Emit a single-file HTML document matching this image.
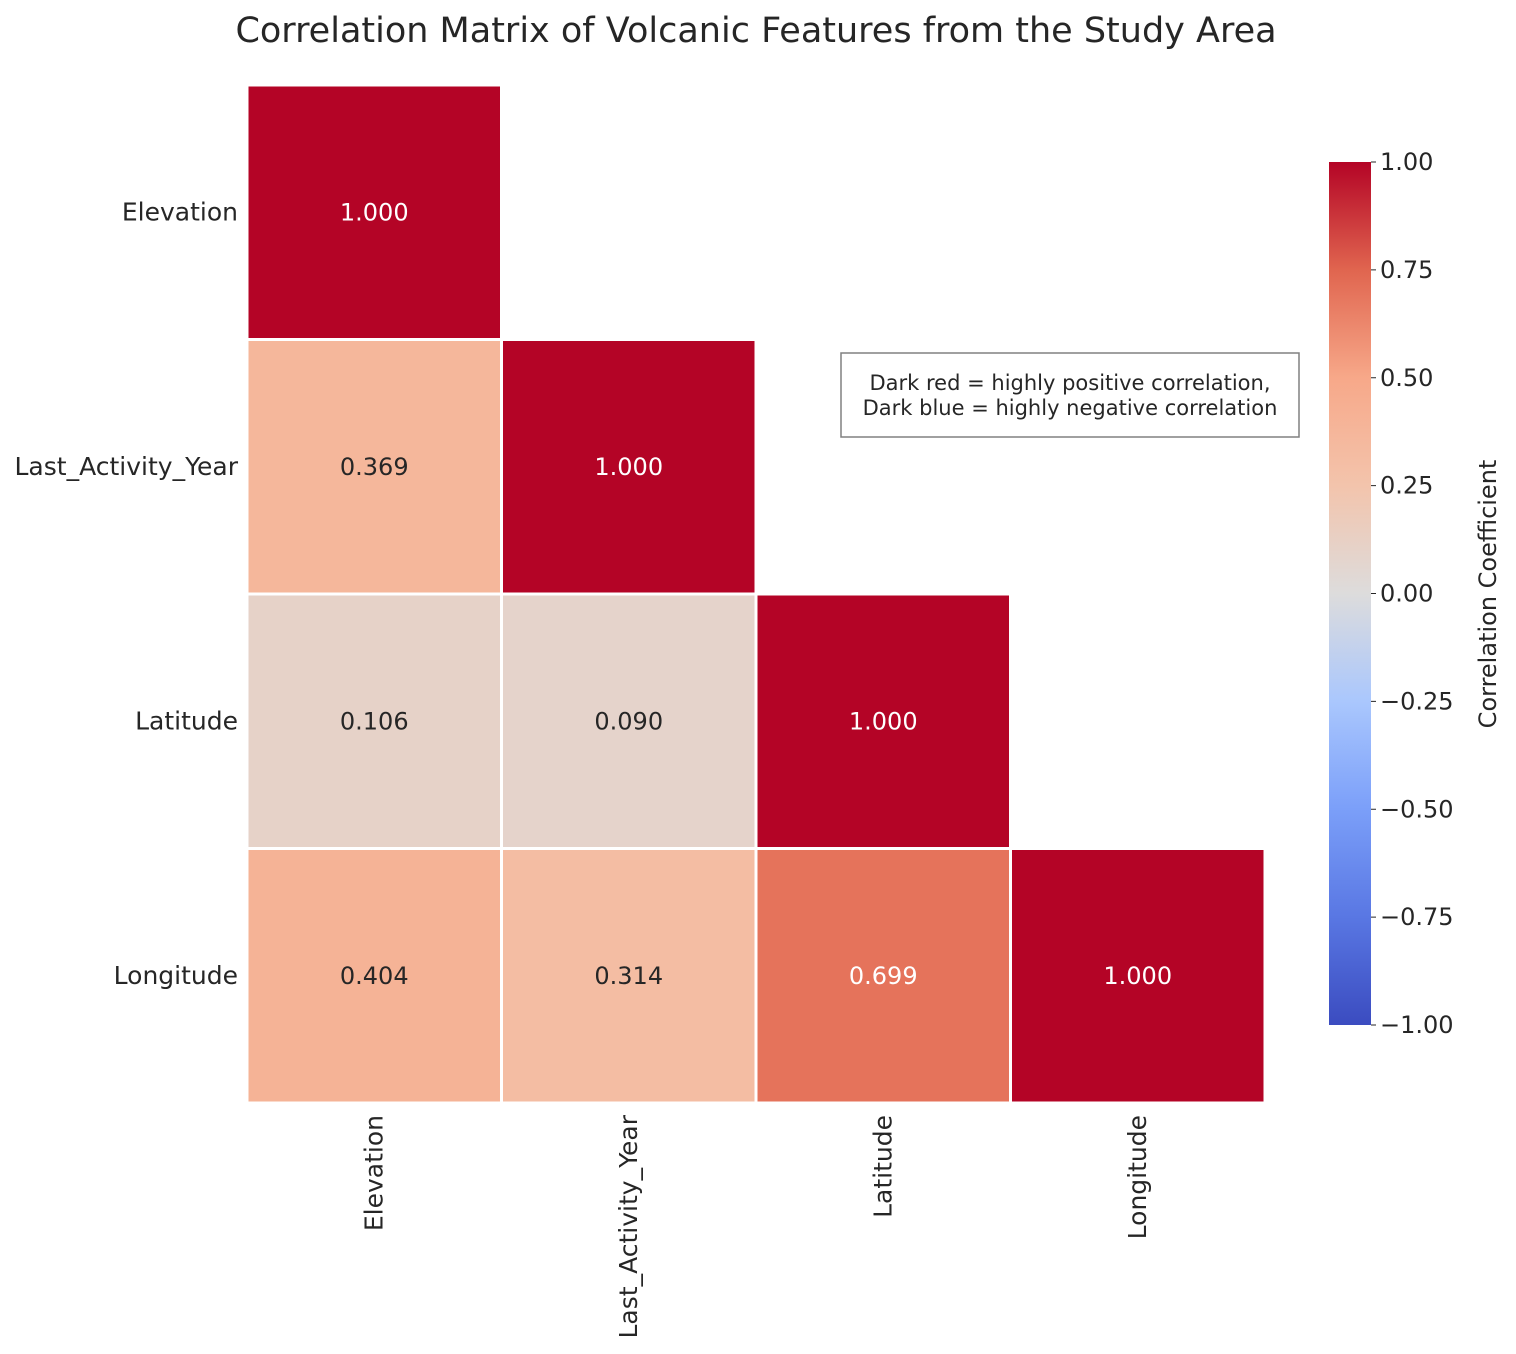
<!DOCTYPE html>
<html><head><meta charset="utf-8">
<style>
body{margin:0;background:#fff;font-family:"Liberation Sans","DejaVu Sans",sans-serif;}
svg text{font-family:"DejaVu Sans","Liberation Sans",sans-serif;fill:#262626;}
</style></head>
<body>
<svg id="chart" width="1516" height="1349" xmlns="http://www.w3.org/2000/svg">
<defs>
<linearGradient id="cbgrad" x1="0" y1="1" x2="0" y2="0">
<stop offset="0" stop-color="#3b4cc0"/><stop offset="0.125" stop-color="#5977e3"/>
<stop offset="0.25" stop-color="#7b9ff9"/><stop offset="0.375" stop-color="#aac7fd"/>
<stop offset="0.5" stop-color="#dddcdc"/><stop offset="0.625" stop-color="#f3c4ac"/>
<stop offset="0.75" stop-color="#f7a889"/><stop offset="0.875" stop-color="#e0654f"/>
<stop offset="1" stop-color="#b40426"/></linearGradient>
</defs>
<text x="756" y="42" font-size="35" text-anchor="middle">Correlation Matrix of Volcanic Features from the Study Area</text>
<g id="cells"></g>
<g id="labels"></g>
<rect x="1329" y="162" width="42" height="863" fill="url(#cbgrad)"/>
<g id="cbticks"></g>
<text transform="translate(1496,594) rotate(-90)" font-size="24" text-anchor="middle">Correlation Coefficient</text>
<rect x="841" y="353" width="458" height="84" fill="#fff" stroke="#808080" stroke-width="1.5"/>
<text x="1070" y="390" font-size="21" text-anchor="middle">Dark red = highly positive correlation,</text>
<text x="1070" y="415" font-size="21" text-anchor="middle">Dark blue = highly negative correlation</text>
</svg>
<script>
const features = ["Elevation","Last_Activity_Year","Latitude","Longitude"];
const row0 = [1.000];
const row1 = [0.369, 1.000];
const row2 = [0.106, 0.090, 1.000];
const row3 = [0.404, 0.314, 0.699, 1.000];
const cbTicks = [1.00,0.75,0.50,0.25,0.00,-0.25,-0.50,-0.75,-1.00];
const rows=[row0,row1,row2,row3];
const NS="http://www.w3.org/2000/svg";
const x0=247,y0=85,cw=254.5,ch=254.5;
const stops=[[-1,[59,76,192]],[-0.75,[89,119,227]],[-0.5,[123,159,249]],[-0.25,[170,199,253]],[0,[221,220,220]],[0.25,[243,196,172]],[0.5,[247,168,137]],[0.75,[224,101,79]],[1,[180,4,38]]];
function color(v){for(let i=0;i<stops.length-1;i++){const[a,ca]=stops[i],[b,cb]=stops[i+1];if(v<=b){const t=(v-a)/(b-a);return`rgb(${ca.map((c,k)=>Math.round(c+(cb[k]-c)*t)).join(",")})`;}}return"rgb(180,4,38)";}
function cbY(v){return 162+(1-v)/2*863;}
function mk(tag,attrs,parent){const e=document.createElementNS(NS,tag);for(const k in attrs)e.setAttribute(k,attrs[k]);parent.appendChild(e);return e;}
const cells=document.getElementById("cells"),labels=document.getElementById("labels");
rows.forEach((r,i)=>r.forEach((v,j)=>{
 const rc=mk("rect",{x:x0+j*cw,y:y0+i*ch,width:cw,height:ch,fill:color(v),stroke:"#fff","stroke-width":3},cells);
 
 
 const t=mk("text",{x:x0+j*cw+cw/2,y:y0+i*ch+ch/2+8,"font-size":24,"text-anchor":"middle"},cells);
 t.style.fill=(v>0.6)?"#fff":"#262626";
 t.textContent=v.toFixed(3);
 
 
}));
features.forEach((f,i)=>{
 const t=mk("text",{x:238,y:y0+i*ch+ch/2+8,"font-size":25,"text-anchor":"end"},labels);
 t.textContent=f;
 
 
 const cx=x0+i*cw+cw/2+8;
 const u=mk("text",{transform:`translate(${cx},1115) rotate(-90)`,"font-size":25,"text-anchor":"end"},labels);
 u.textContent=f;
 
 
});
const cbg=document.getElementById("cbticks");
cbTicks.forEach(v=>{
 const y=cbY(v);
 const l=mk("line",{x1:1371,x2:1376,y1:y,y2:y,stroke:"#262626","stroke-width":1},cbg);
 
 
 const t=mk("text",{x:1380,y:y+8,"font-size":24},cbg);
 t.textContent=(v<0?"\u2212":"")+Math.abs(v).toFixed(2);
 
 
});
</script>
</body></html>
